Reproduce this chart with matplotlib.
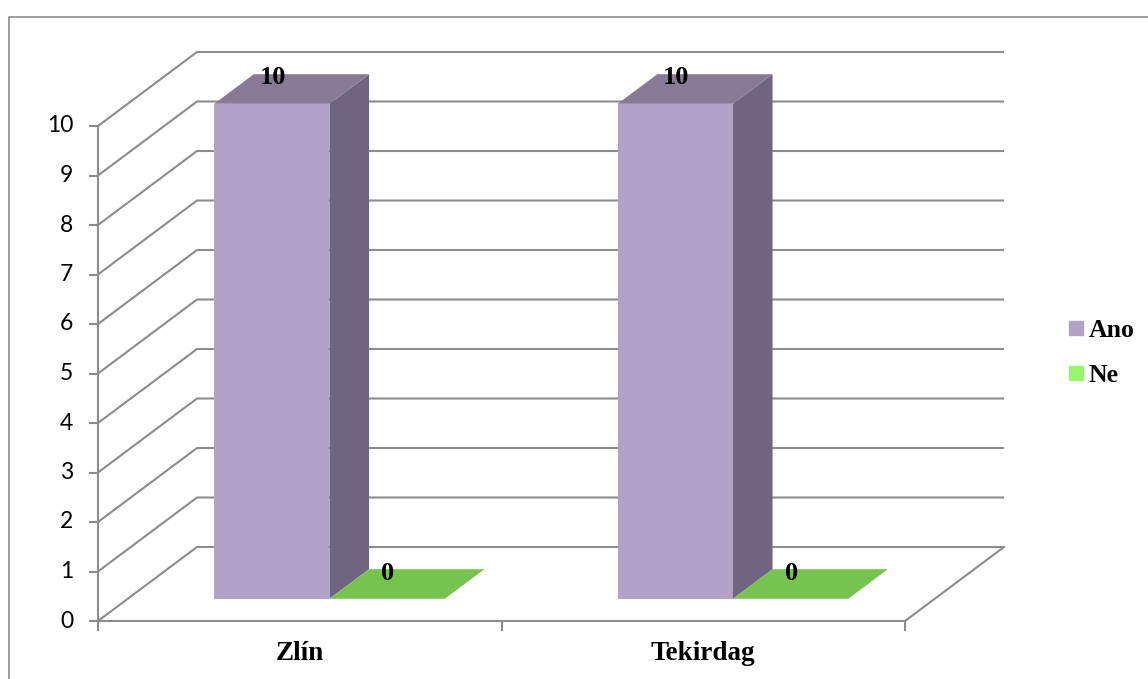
import matplotlib.pyplot as plt
import numpy as np
from matplotlib.patches import Polygon
from matplotlib.lines import Line2D

categories = ['Zlín', 'Tekirdag']
series_names = ['Ano', 'Ne']
ano_values = [10, 10]
ne_values = [0, 0]
y_ticks = list(range(0, 11))

# colours per series: front, top, side, legend
ano_colors = ('#B3A2C7', '#887A97', '#6F6580', '#B3A2C7')
ne_colors = ('#77C34F', '#77C34F', '#5E9C3E', '#96F76A')
grid_col = '#8C8C8C'

W, H = 1148, 679
# layout of the 3d box in pixels
org_x, org_y = 98, 621        # front origin (value 0, first category)
cat_px = 403.5                # pixels per category
val_px = 49.5                 # pixels per value unit
back_dx, back_dy = 99, 74     # offset of the back wall

DX = back_dx / cat_px
DY = back_dy / val_px

def P(x, y, z):
    # oblique projection, z = depth fraction 0 (front) .. 1 (back)
    return (x + z * DX, y + z * DY)

fig = plt.figure(figsize=(W / 100, H / 100), dpi=100)
ax = fig.add_axes([0, 0, 1, 1])
ax.set_xlim(-org_x / cat_px, (W - org_x) / cat_px)
ax.set_ylim(-(H - org_y) / val_px, org_y / val_px)
ax.axis('off')

n = len(categories)
lw = 1.5

# back wall gridlines + side diagonals
for v in y_ticks:
    a = P(0, v, 0)
    b = P(0, v, 1)
    c = P(n, v, 1)
    ax.plot([a[0], b[0], c[0]], [a[1], b[1], c[1]], color=grid_col, lw=lw,
            solid_capstyle='butt', zorder=1)

# front value axis with ticks
ax.plot([0, 0], [0, max(y_ticks)], color=grid_col, lw=lw, zorder=2)
tick_len = 8 / cat_px
for v in y_ticks:
    ax.plot([-tick_len, 0], [v, v], color=grid_col, lw=lw, zorder=2)
    ax.text(-25 / cat_px, v, str(v), ha='right', va='center',
            fontsize=16.5, family='Lato', color='black')

# floor front edge, right diagonal and category ticks
ax.plot([0, n], [0, 0], color=grid_col, lw=lw, zorder=2)
fr = P(n, 0, 0)
bk = P(n, 0, 1)
ax.plot([fr[0], bk[0]], [fr[1], bk[1]], color=grid_col, lw=lw, zorder=2)
for i in range(n + 1):
    ax.plot([i, i], [0, -9 / val_px], color=grid_col, lw=lw, zorder=2)

# bars
w = 1 / 3.5
z0, z1 = 0.3, 0.7
for i in range(n):
    for s, (vals, cols) in enumerate([(ano_values, ano_colors), (ne_values, ne_colors)]):
        v = vals[i]
        xa = i + 0.75 * w + s * w
        xb = xa + w
        if v > 0:
            front = [P(xa, 0, z0), P(xb, 0, z0), P(xb, v, z0), P(xa, v, z0)]
            side = [P(xb, 0, z0), P(xb, 0, z1), P(xb, v, z1), P(xb, v, z0)]
            ax.add_patch(Polygon(front, closed=True, fc=cols[0], ec='none', zorder=3))
            ax.add_patch(Polygon(side, closed=True, fc=cols[2], ec='none', zorder=3))
        top = [P(xa, v, z0), P(xb, v, z0), P(xb, v, z1), P(xa, v, z1)]
        ax.add_patch(Polygon(top, closed=True, fc=cols[1], ec='none', zorder=3))
        cx, cy = P((xa + xb) / 2, v, (z0 + z1) / 2)
        ax.annotate(str(v), xy=(cx, cy), xytext=(-19 * 0.72, 11 * 0.72),
                    textcoords='offset points', ha='center', va='center',
                    fontsize=19, fontweight='bold', family='Liberation Serif',
                    zorder=5)

# category labels
for i, c in enumerate(categories):
    ax.text(i + 0.5, -(654 - org_y) / val_px, c, ha='center', va='center',
            fontsize=19.5, fontweight='bold', family='Liberation Serif')

# legend
handles = [Line2D([], [], marker='s', ls='none', color=ano_colors[3], markersize=10),
           Line2D([], [], marker='s', ls='none', color=ne_colors[3], markersize=10)]
fig.legend(handles, series_names, loc='center left',
           bbox_to_anchor=(1046 / W, 1 - 353 / H), frameon=False,
           prop={'family': 'Liberation Serif', 'weight': 'bold', 'size': 18.5},
           handlelength=0.5, handletextpad=0.25, labelspacing=0.85)

# chart border (left and top visible)
fig.add_artist(Line2D([9 / W, 9 / W, 1.0], [0, 1 - 17 / H, 1 - 17 / H],
                      transform=fig.transFigure, color='#8C8C8C', lw=1.2))

fig.savefig('out.png', dpi=100)
